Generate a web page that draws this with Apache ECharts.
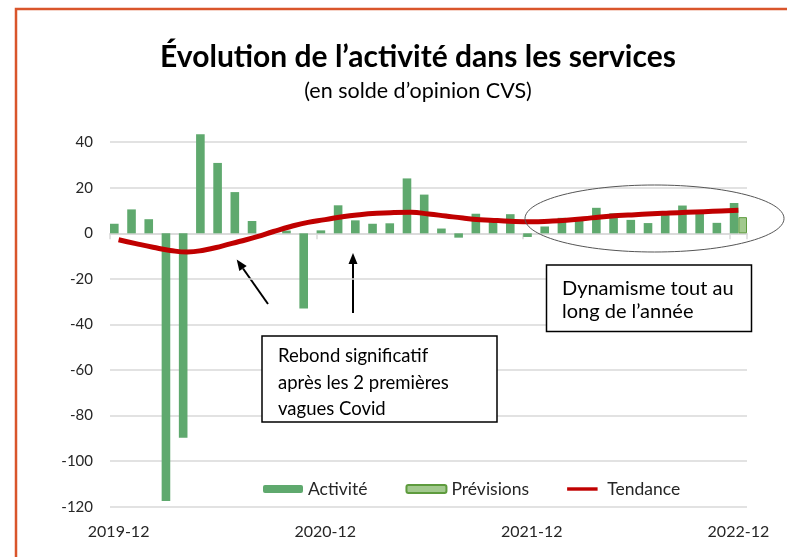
<!DOCTYPE html>
<html><head><meta charset="utf-8">
<script src="https://cdn.jsdelivr.net/npm/echarts@6/dist/echarts.min.js"></script>
<style>html,body{margin:0;padding:0;background:#fff}#c{width:787px;height:557px}</style>
</head><body><div id="c"></div>
<script>
const categories = ["2019-12","2020-01","2020-02","2020-03","2020-04","2020-05","2020-06","2020-07","2020-08","2020-09","2020-10","2020-11",
  "2020-12","2021-01","2021-02","2021-03","2021-04","2021-05","2021-06","2021-07","2021-08","2021-09","2021-10","2021-11",
  "2021-12","2022-01","2022-02","2022-03","2022-04","2022-05","2022-06","2022-07","2022-08","2022-09","2022-10","2022-11","2022-12"];
const activite = [4.2,10.5,6.2,-117.5,-89.7,43.5,30.9,18.1,5.4,0,1.2,-33,
  1.3,12.3,5.7,4.2,4.4,24.1,17,2.1,-1.9,8.6,5.5,8.4,
  -1.6,3,6.8,6.5,11.2,8.8,5.9,4.5,8,12.2,8.7,4.6,13.3];
const previsions = [null,null,null,null,null,null,null,null,null,null,null,null,
  null,null,null,null,null,null,null,null,null,null,null,null,
  null,null,null,null,null,null,null,null,null,null,null,null,7.1];
const tendance = [-2.8,-4.5,-6.1,-7.5,-8.2,-7.3,-5.6,-3.6,-1.6,0.8,3.0,4.8,
  6.0,7.3,8.2,8.8,9.1,9.2,8.5,7.6,6.7,6.0,5.6,5.2,
  5.1,5.3,5.7,6.4,7.2,7.8,8.2,8.6,8.9,9.2,9.5,9.8,10.1];
const yMin = -120, yMax = 40, yStep = 20;
const titleText = "Évolution de l’activité dans les services";
const subtitleText = "(en solde d’opinion CVS)";
const note1 = ["Rebond significatif", "après les 2 premières", "vagues Covid"];
const note2 = ["Dynamisme tout au", "long de l’année"];

const FONT = "Lato";
const chart = echarts.init(document.getElementById('c'));

function arrow(tail, tip, size, width) {
  const dx = tip[0]-tail[0], dy = tip[1]-tail[1];
  const L = Math.hypot(dx, dy), ux = dx/L, uy = dy/L;
  const bx = tip[0]-ux*size, by = tip[1]-uy*size;
  const px = -uy*width/2, py = ux*width/2;
  return [
    {type:'line', shape:{x1:tail[0],y1:tail[1],x2:bx,y2:by}, style:{stroke:'#000',lineWidth:2}},
    {type:'polygon', shape:{points:[tip,[bx+px,by+py],[bx-px,by-py]]}, style:{fill:'#000'}}
  ];
}

const graphics = [
  {type:'polyline', shape:{points:[[16,557],[16,9],[787,9]]}, style:{stroke:'#d9552b',lineWidth:2.5,fill:null}},
  {type:'text', x:418, y:57, style:{text:titleText, font:'bold 30px '+FONT, fill:'#000', textAlign:'center', textVerticalAlign:'middle'}},
  {type:'text', x:418, y:91, style:{text:subtitleText, font:'21.5px '+FONT, fill:'#000', textAlign:'center', textVerticalAlign:'middle'}},
  {type:'ellipse', shape:{cx:654.5,cy:218.5,rx:129.5,ry:33.5}, style:{stroke:'#555',lineWidth:1,fill:null}, z:10},
  {type:'rect', shape:{x:262,y:336,width:235,height:86}, style:{stroke:'#000',lineWidth:1.5,fill:'#fff'}, z:10},
  {type:'rect', shape:{x:546.5,y:265,width:205,height:66.5}, style:{stroke:'#000',lineWidth:1.5,fill:'#fff'}, z:10},
  ...arrow([268,304],[236.7,259.5],11,9),
  ...arrow([353,313],[353,253],11,9)
];
note1.forEach((t,i)=>graphics.push({type:'text', x:278, y:356+i*26.7, z:11, style:{text:t, font:'18.5px '+FONT, fill:'#000', textVerticalAlign:'middle'}}));
note2.forEach((t,i)=>graphics.push({type:'text', x:562, y:288.5+i*23.5, z:11, style:{text:t, font:'20px '+FONT, fill:'#000', textVerticalAlign:'middle'}}));

chart.setOption({
  animation:false,
  textStyle:{fontFamily:FONT},
  grid:{left:110, right:40, top:142.2, bottom:50.3},
  legend:{
    data:['Activité','Prévisions',{name:'Tendance', icon:'path://M0,0L0,0M0,3L40,3L40,7.5L0,7.5ZM0,10.5L0,10.5', itemStyle:{color:'#c00000'}}],
    left:258, top:475, itemWidth:40, itemHeight:8, itemGap:38,
    textStyle:{fontSize:17.5, color:'#262626', fontFamily:FONT}
  },
  xAxis:[
    {type:'category', data:categories, position:'bottom', boundaryGap:true,
     axisLine:{onZero:true, lineStyle:{color:'#d9d9d9', width:1.5}},
     axisTick:{show:true, interval:11, length:6, lineStyle:{color:'#d9d9d9', width:1.5}},
     axisLabel:{show:false}, splitLine:{show:false}},
    {type:'category', data:categories, position:'bottom', boundaryGap:true,
     axisLine:{show:false, onZero:false}, axisTick:{show:false},
     axisLabel:{interval:11, fontSize:16, color:'#262626', margin:17, fontFamily:FONT}}
  ],
  yAxis:{type:'value', min:yMin, max:yMax, interval:yStep,
    axisLine:{show:false}, axisTick:{show:false},
    axisLabel:{fontSize:15, color:'#262626', margin:17, fontFamily:FONT},
    splitLine:{lineStyle:{color:'#d9d9d9', width:1.5}}},
  series:[
    {name:'Activité', type:'bar', data:activite, barGap:'0%', barCategoryGap:'0%', barWidth:'50%', clip:false,
     itemStyle:{color:'#5fa96e'}},
    {name:'Prévisions', type:'bar', data:previsions, barWidth:'50%', clip:false,
     itemStyle:{color:'#a2c98e', borderColor:'#5e9b3e', borderWidth:1}},
    {name:'Tendance', type:'line', data:tendance, smooth:true, symbol:'none', z:5,
     lineStyle:{color:'#c00000', width:5}, itemStyle:{color:'#c00000'}}
  ],
  graphic:graphics
});
</script></body></html>
